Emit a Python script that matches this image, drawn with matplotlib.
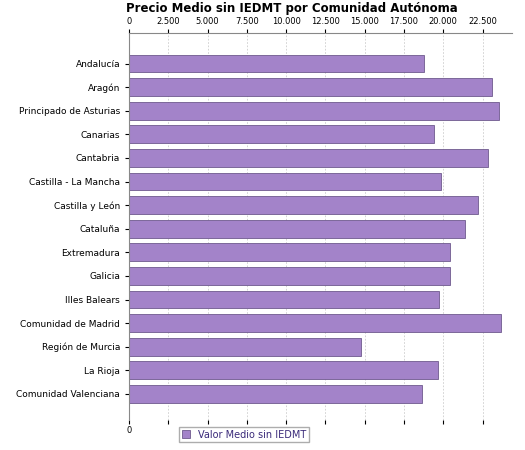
import matplotlib
matplotlib.use("Agg")
import matplotlib.pyplot as plt
from matplotlib.ticker import FuncFormatter

regions = ["Andalucía","Aragón","Principado de Asturias","Canarias","Cantabria",
           "Castilla - La Mancha","Castilla y León","Cataluña","Extremadura","Galicia",
           "Illes Balears","Comunidad de Madrid","Región de Murcia","La Rioja","Comunidad Valenciana"]
values = [18780,23080,23530,19420,22820,19870,22180,21410,20450,20450,19740,23650,14740,19680,18650]
ticks = [0,2500,5000,7500,10000,12500,15000,17500,20000,22500]

fig = plt.figure(figsize=(5.25,4.5), dpi=100)
ax = fig.add_axes([0.246,0.067,0.73,0.86])
y = list(range(len(regions)))
ax.barh(y, values, height=0.75, color="#a383c9", edgecolor="#6f5a8e", linewidth=0.6, label="Valor Medio sin IEDMT")
ax.set_ylim(len(regions)+0.1, -1.3)
ax.set_xlim(0, 24400)
ax.set_yticks(y)
ax.set_yticklabels(regions, fontsize=6.5)
ax.set_xticks(ticks)
ax.xaxis.set_major_formatter(FuncFormatter(lambda v,p: f"{int(v):,}".replace(",", ".")))
ax.tick_params(axis="x", labelsize=6, top=True, labeltop=True, bottom=True, labelbottom=False, length=3, pad=2)
ax.tick_params(axis="y", length=3)
ax.text(0, len(regions)+0.35, "0", fontsize=6, ha="center", va="top")
ax.grid(axis="x", color="#cccccc", linestyle=(0,(2,2)), linewidth=0.6)
ax.set_axisbelow(True)
for s in ["right","bottom"]:
    ax.spines[s].set_visible(False)
ax.spines["left"].set_color("#888888")
ax.spines["top"].set_color("#888888")
fig.text(0.24, 0.995, "Precio Medio sin IEDMT por Comunidad Autónoma", fontsize=8.5, fontweight="bold", ha="left", va="top")
leg = ax.legend(loc="upper center", bbox_to_anchor=(0.3, -0.005), fontsize=7, frameon=True, fancybox=False, handlelength=0.8, handleheight=0.8, borderpad=0.3)
leg.get_frame().set_edgecolor("#999999")
for t in leg.get_texts():
    t.set_color("#3a2a7a")
fig.savefig("out.png", dpi=100)
